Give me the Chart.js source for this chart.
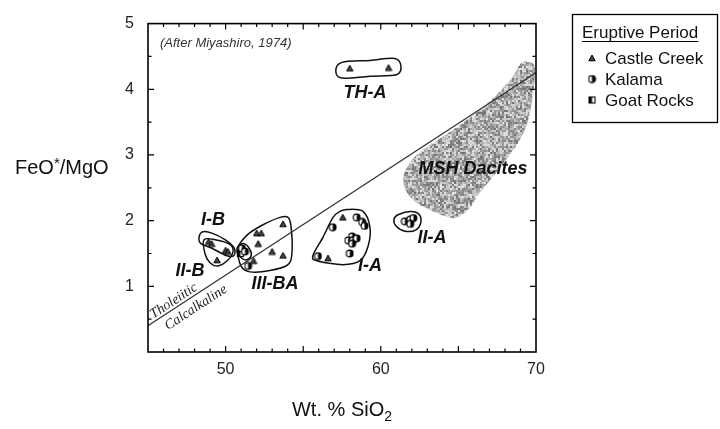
<!DOCTYPE html>
<html>
<head>
<meta charset="utf-8">
<title>FeO*/MgO vs SiO2</title>
<script src="https://cdn.jsdelivr.net/npm/chart.js@4.4.1/dist/chart.umd.min.js"></script>
<style>
  html, body { margin: 0; padding: 0; background: #fff; }
  #wrap { position: relative; width: 720px; height: 429px; }
</style>
</head>
<body>
<div id="wrap"><canvas id="plot" width="720" height="429"></canvas></div>
<script>
// axis labels
var xTickLabels = [50, 60, 70];
var yTickLabels = [1, 2, 3, 4, 5];

// samples as [SiO2 wt.%, FeO*/MgO]
var castleCreek = [
  [58.0, 4.32], [60.5, 4.33],
  [48.9, 1.68], [49.1, 1.65], [50.0, 1.55], [50.15, 1.53], [49.45, 1.40],
  [52.0, 1.81], [52.3, 1.81], [53.7, 1.95], [52.1, 1.65], [53.0, 1.53], [53.7, 1.47], [51.8, 1.39],
  [57.55, 2.05], [56.6, 1.43]
];
var kalama = [
  [51.05, 1.58], [51.25, 1.53], [51.45, 1.31],
  [58.45, 2.05], [58.8, 1.98], [58.95, 1.92], [56.9, 1.90], [58.15, 1.76], [57.9, 1.70],
  [58.2, 1.70], [58.45, 1.73], [58.15, 1.65], [58.0, 1.50], [55.95, 1.46],
  [61.55, 1.99], [61.9, 2.02], [62.1, 2.04], [61.9, 1.95]
];
var goatRocks = [
  [50.95, 1.50]
];

// tholeiitic / calc-alkaline divide (Miyashiro, 1974)
var dividerLine = [[45, 0.40], [70, 4.25]];

// group envelopes, outlines in data units
var envTHA = [[57.1, 4.28], [57.5, 4.41], [59.3, 4.44], [60.9, 4.47], [61.3, 4.35], [61.0, 4.22], [59.3, 4.20], [57.5, 4.17]];
var envIB = [[48.29, 1.75], [48.54, 1.83], [49.12, 1.81], [49.96, 1.71], [50.54, 1.59], [50.54, 1.47], [50.03, 1.47], [49.12, 1.58], [48.41, 1.65]];
var envIIB = [[48.61, 1.71], [49.32, 1.71], [50.28, 1.64], [50.48, 1.53], [50.15, 1.40], [49.51, 1.31], [48.99, 1.36], [48.67, 1.50]];
var envMix = [[50.8, 1.61], [51.19, 1.65], [51.57, 1.56], [51.64, 1.46], [51.31, 1.40], [50.93, 1.45], [50.73, 1.53]];
var envIIIBA = [[51.38, 1.78], [52.35, 1.93], [53.51, 2.05], [54.02, 2.05], [54.21, 1.92], [54.28, 1.53], [54.02, 1.33], [52.86, 1.24], [51.57, 1.22], [50.99, 1.31], [50.8, 1.58]];
var envIA = [[57.37, 2.14], [57.82, 2.17], [58.85, 2.14], [59.3, 1.90], [59.18, 1.61], [58.66, 1.39], [57.56, 1.33], [55.89, 1.39], [55.63, 1.47], [56.28, 1.75], [56.92, 2.05]];
var envIIA = [[61.11, 2.09], [61.88, 2.14], [62.4, 2.11], [62.59, 1.99], [62.27, 1.86], [61.56, 1.84], [60.98, 1.92], [60.85, 2.02]];

// Mount St. Helens dacite field
var dacitesOutline = [
  [69.42, 4.42], [69.94, 4.28], [69.42, 3.47], [68.13, 2.94], [66.39, 2.43], [65.75, 2.20],
  [64.91, 2.05], [64.27, 2.06], [62.53, 2.24], [61.69, 2.43], [61.43, 2.64], [61.88, 2.88],
  [62.72, 3.08], [64.27, 3.32], [65.75, 3.57], [67.23, 3.86], [68.52, 4.20], [68.97, 4.38]
];

// group names and where they sit
var groupLabels = [
  ['TH-A', 58.98, 3.95], ['I-B', 49.19, 2.01], ['II-B', 47.71, 1.24], ['III-BA', 53.18, 1.03],
  ['I-A', 59.3, 1.31], ['II-A', 63.3, 1.73], ['MSH Dacites', 65.94, 2.79]
];

var SANS = "'Liberation Sans', Arial, Helvetica, sans-serif";
var SERIF = "'Liberation Serif', 'Times New Roman', serif";

function xy(p) { return { x: p[0], y: p[1] }; }

function makeTriangle() {
  var c = document.createElement('canvas');
  c.width = 8; c.height = 8;
  var g = c.getContext('2d');
  g.beginPath();
  g.moveTo(4, 1); g.lineTo(7.2, 6.8); g.lineTo(0.8, 6.8); g.closePath();
  g.fillStyle = '#444'; g.fill();
  g.lineWidth = 1; g.strokeStyle = '#000'; g.stroke();
  return c;
}

function makeHalfCircle() {
  var c = document.createElement('canvas');
  c.width = 9; c.height = 9;
  var g = c.getContext('2d');
  g.beginPath(); g.arc(4.5, 4.5, 3.4, 0, Math.PI * 2);
  g.fillStyle = '#fff'; g.fill();
  g.lineWidth = 1.1; g.strokeStyle = '#000'; g.stroke();
  g.beginPath(); g.moveTo(4.5, 1.1); g.arc(4.5, 4.5, 3.4, -Math.PI / 2, Math.PI / 2); g.closePath();
  g.fillStyle = '#000'; g.fill();
  return c;
}

function makeHalfSquare() {
  var c = document.createElement('canvas');
  c.width = 9; c.height = 9;
  var g = c.getContext('2d');
  g.fillStyle = '#fff'; g.fillRect(1.5, 1.5, 6, 6);
  g.fillStyle = '#000'; g.fillRect(1.5, 1.5, 3, 6);
  g.lineWidth = 1.1; g.strokeStyle = '#000'; g.strokeRect(1.5, 1.5, 6, 6);
  return c;
}

// speckled grey texture for the dacite field (2px grains)
function makeStipple() {
  var n = 96;
  var c = document.createElement('canvas');
  c.width = n; c.height = n;
  var g = c.getContext('2d');
  var seed = 48271;
  function rnd() { seed = (seed * 16807) % 2147483647; return seed / 2147483647; }
  g.fillStyle = '#b4b4b4';
  g.fillRect(0, 0, n, n);
  for (var y = 0; y < n; y += 2) {
    for (var x = 0; x < n; x += 2) {
      var v = Math.round(rnd() < 0.5 ? 115 + rnd() * 55 : 175 + rnd() * 55);
      g.fillStyle = 'rgb(' + v + ',' + v + ',' + v + ')';
      g.fillRect(x, y, 2, 2);
    }
  }
  return c;
}

var triImg = makeTriangle();
var circImg = makeHalfCircle();
var sqImg = makeHalfSquare();
var stipple = makeStipple();

function toPixels(chart, arr) {
  var xs = chart.scales.x, ys = chart.scales.y;
  return arr.map(function (p) { return { x: xs.getPixelForValue(p[0]), y: ys.getPixelForValue(p[1]) }; });
}

// closed catmull-rom curve through the outline points
function smoothClosed(ctx, pts) {
  var n = pts.length;
  ctx.moveTo(pts[0].x, pts[0].y);
  for (var i = 0; i < n; i++) {
    var p0 = pts[(i - 1 + n) % n], p1 = pts[i], p2 = pts[(i + 1) % n], p3 = pts[(i + 2) % n];
    ctx.bezierCurveTo(p1.x + (p2.x - p0.x) / 6, p1.y + (p2.y - p0.y) / 6,
                      p2.x - (p3.x - p1.x) / 6, p2.y - (p3.y - p1.y) / 6, p2.x, p2.y);
  }
  ctx.closePath();
}

var fieldsPlugin = {
  id: 'fields',
  beforeDatasetsDraw: function (chart) {
    var ctx = chart.ctx, area = chart.chartArea;
    ctx.save();
    ctx.beginPath();
    ctx.rect(area.left, area.top, area.right - area.left, area.bottom - area.top);
    ctx.clip();

    ctx.beginPath();
    smoothClosed(ctx, toPixels(chart, dacitesOutline));
    ctx.fillStyle = ctx.createPattern(stipple, 'repeat');
    ctx.fill();

    ctx.strokeStyle = '#111';
    ctx.lineWidth = 1.5;
    [envTHA, envIB, envIIB, envMix, envIIIBA, envIA, envIIA].forEach(function (env) {
      ctx.beginPath();
      smoothClosed(ctx, toPixels(chart, env));
      ctx.stroke();
    });
    ctx.restore();
  }
};

var labelsPlugin = {
  id: 'labels',
  afterDatasetsDraw: function (chart) {
    var ctx = chart.ctx, xs = chart.scales.x, ys = chart.scales.y;
    ctx.save();
    ctx.fillStyle = '#111';
    ctx.textAlign = 'center';
    ctx.textBaseline = 'middle';
    ctx.font = 'italic bold 18px ' + SANS;
    groupLabels.forEach(function (l) {
      ctx.fillText(l[0], xs.getPixelForValue(l[1]), ys.getPixelForValue(l[2]));
    });

    ctx.font = 'italic 13px ' + SANS;
    ctx.textAlign = 'left';
    ctx.textBaseline = 'alphabetic';
    ctx.fillStyle = '#333';
    ctx.fillText('(After Miyashiro, 1974)', chart.chartArea.left + 12, chart.chartArea.top + 23);

    // field names along the divide
    var p = toPixels(chart, dividerLine);
    var ang = Math.atan2(p[1].y - p[0].y, p[1].x - p[0].x);
    var slope = (dividerLine[1][1] - dividerLine[0][1]) / (dividerLine[1][0] - dividerLine[0][0]);
    function onLine(x) { return { x: xs.getPixelForValue(x), y: ys.getPixelForValue(dividerLine[0][1] + (x - dividerLine[0][0]) * slope) }; }
    ctx.font = 'italic 14px ' + SERIF;
    ctx.fillStyle = '#222';
    ctx.textAlign = 'center';
    var a = onLine(46.9);
    ctx.save(); ctx.translate(a.x, a.y); ctx.rotate(ang);
    ctx.textBaseline = 'alphabetic'; ctx.fillText('Tholeiitic', 0, -3);
    ctx.restore();
    var b = onLine(47.7);
    ctx.save(); ctx.translate(b.x, b.y); ctx.rotate(ang);
    ctx.textBaseline = 'top'; ctx.fillText('Calcalkaline', 0, 4);
    ctx.restore();
    ctx.restore();
  }
};

var framePlugin = {
  id: 'frame',
  afterDraw: function (chart) {
    var ctx = chart.ctx, a = chart.chartArea, xs = chart.scales.x, ys = chart.scales.y;
    ctx.save();
    ctx.strokeStyle = '#000';
    ctx.lineWidth = 1.6;
    ctx.strokeRect(a.left, a.top, a.right - a.left, a.bottom - a.top);

    // inward ticks on all four sides
    ctx.lineWidth = 1.2;
    ctx.beginPath();
    for (var v = 46; v < 70; v++) {
      var px = xs.getPixelForValue(v);
      var len = v % 5 === 0 ? 6 : 3.5;
      ctx.moveTo(px, a.bottom); ctx.lineTo(px, a.bottom - len);
      ctx.moveTo(px, a.top); ctx.lineTo(px, a.top + len);
    }
    for (var k = 1; k < 10; k++) {
      var py = ys.getPixelForValue(k / 2);
      var l2 = k % 2 === 0 ? 6 : 3.5;
      ctx.moveTo(a.left, py); ctx.lineTo(a.left + l2, py);
      ctx.moveTo(a.right, py); ctx.lineTo(a.right - l2, py);
    }
    ctx.stroke();

    // axis titles
    ctx.fillStyle = '#111';
    ctx.textBaseline = 'alphabetic';
    ctx.textAlign = 'left';
    ctx.font = '20px ' + SANS;
    var x0 = 15, yb = 174;
    ctx.fillText('FeO', x0, yb);
    x0 += ctx.measureText('FeO').width;
    ctx.font = '15px ' + SANS;
    ctx.fillText('*', x0, yb - 6);
    x0 += ctx.measureText('*').width;
    ctx.font = '20px ' + SANS;
    ctx.fillText('/MgO', x0, yb);

    ctx.font = '20px ' + SANS;
    var main = 'Wt. % SiO';
    var w1 = ctx.measureText(main).width;
    ctx.font = '14px ' + SANS;
    var w2 = ctx.measureText('2').width;
    var sx = (a.left + a.right) / 2 - (w1 + w2) / 2;
    ctx.font = '20px ' + SANS;
    ctx.fillText(main, sx, 416);
    ctx.font = '14px ' + SANS;
    ctx.fillText('2', sx + w1, 421);

    // legend box
    ctx.lineWidth = 1.3;
    ctx.strokeRect(572.5, 14.5, 145, 108);
    ctx.font = '17px ' + SANS;
    ctx.fillText('Eruptive Period', 582, 38);
    var tw = ctx.measureText('Eruptive Period').width;
    ctx.lineWidth = 1.1;
    ctx.beginPath(); ctx.moveTo(582, 41.5); ctx.lineTo(582 + tw, 41.5); ctx.stroke();
    var items = [['Castle Creek', triImg], ['Kalama', circImg], ['Goat Rocks', sqImg]];
    items.forEach(function (it, i) {
      var by = 64 + i * 21;
      ctx.drawImage(it[1], 592 - it[1].width / 2, by - 6 - it[1].height / 2);
      ctx.fillText(it[0], 605, by);
    });
    ctx.restore();
  }
};

new Chart(document.getElementById('plot'), {
  type: 'scatter',
  data: {
    datasets: [
      { label: 'Castle Creek', data: castleCreek.map(xy), pointStyle: triImg, pointRadius: 4 },
      { label: 'Kalama', data: kalama.map(xy), pointStyle: circImg, pointRadius: 4 },
      { label: 'Goat Rocks', data: goatRocks.map(xy), pointStyle: sqImg, pointRadius: 4 },
      {
        label: 'divide', type: 'line', data: dividerLine.map(xy),
        borderColor: '#333', borderWidth: 1.2, pointRadius: 0, fill: false
      }
    ]
  },
  options: {
    responsive: false,
    animation: false,
    devicePixelRatio: 1,
    layout: { padding: { left: 0, top: 13, right: 184, bottom: 0 } },
    plugins: { legend: { display: false }, tooltip: { enabled: false } },
    scales: {
      x: {
        type: 'linear', min: 45, max: 70,
        border: { display: false },
        grid: { display: false, drawTicks: false },
        ticks: { padding: 8, color: '#222', font: { family: SANS, size: 16 } },
        afterBuildTicks: function (s) { s.ticks = xTickLabels.map(function (v) { return { value: v }; }); },
        afterFit: function (s) { s.height = 77; }
      },
      y: {
        type: 'linear', min: 0, max: 5,
        border: { display: false },
        grid: { display: false, drawTicks: false },
        ticks: { padding: 14, color: '#222', font: { family: SANS, size: 16 } },
        afterBuildTicks: function (s) { s.ticks = yTickLabels.map(function (v) { return { value: v }; }); },
        afterFit: function (s) { s.width = 148; }
      }
    }
  },
  plugins: [fieldsPlugin, labelsPlugin, framePlugin]
});
</script>
</body>
</html>
